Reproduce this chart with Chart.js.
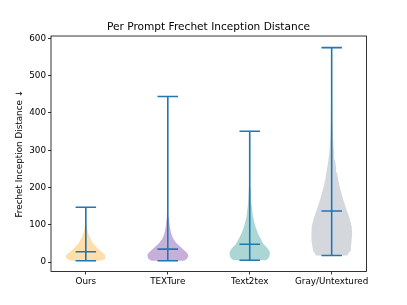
<!DOCTYPE html>
<html>
<head>
<meta charset="utf-8">
<script src="https://cdn.jsdelivr.net/npm/chart.js@4"></script>
<style>
  html, body { margin: 0; padding: 0; background: #fff; }
  #wrap { width: 407px; height: 305px; }
</style>
</head>
<body>
<div id="wrap"><canvas id="violinChart" width="407" height="305"></canvas></div>
<script>
// categories and summary stats
const categories = ['Ours', 'TEXTure', 'Text2tex', 'Gray/Untextured'];
const yTicks = [0, 100, 200, 300, 400, 500, 600];
const minVals = [4, 4, 5, 18];
const medVals = [28, 35, 48, 137];
const maxVals = [147, 444, 351, 575];

// violin outlines: value levels and half widths (x units)
const oursLevels = [4, 8, 14, 20, 28, 38, 50, 60, 68, 78, 86, 100, 120, 147];
const oursWidths = [0.17, 0.23, 0.245, 0.235, 0.19, 0.14, 0.09, 0.065, 0.045, 0.03, 0.02, 0.01, 0.005, 0.003];
const textureLevels = [4, 10, 19, 26, 34, 42, 50, 60, 68, 80, 95, 121, 160, 220, 300, 444];
const textureWidths = [0.2, 0.24, 0.25, 0.23, 0.19, 0.15, 0.11, 0.075, 0.055, 0.038, 0.025, 0.012, 0.007, 0.005, 0.004, 0.003];
const text2texLevels = [5, 12, 20, 28, 38, 48, 58, 68, 80, 95, 121, 157, 202, 260, 351];
const text2texWidths = [0.2, 0.235, 0.245, 0.245, 0.215, 0.17, 0.145, 0.12, 0.095, 0.07, 0.04, 0.02, 0.01, 0.006, 0.004];
const grayLevels = [18, 30, 41, 60, 77, 95, 112, 130, 148, 165, 184, 200, 220, 240, 255, 275, 291, 327, 371, 450, 575];
const grayWidths = [0.19, 0.225, 0.235, 0.245, 0.25, 0.245, 0.225, 0.2, 0.17, 0.145, 0.12, 0.1, 0.08, 0.065, 0.053, 0.04, 0.03, 0.018, 0.012, 0.007, 0.004];

const violinFills = ['rgb(254,222,170)', 'rgb(198,176,218)', 'rgb(172,214,212)', 'rgb(212,216,221)'];
const lineColor = '#1f77b4';
const capHalf = 0.125;

const profiles = [
    [oursLevels, oursWidths],
    [textureLevels, textureWidths],
    [text2texLevels, text2texWidths],
    [grayLevels, grayWidths],
];

function violinOutline(pos, levels, widths) {
    const pts = [];
    for (let i = 0; i < levels.length; i++) pts.push({ x: pos + widths[i], y: levels[i] });
    for (let i = levels.length - 1; i >= 0; i--) pts.push({ x: pos - widths[i], y: levels[i] });
    pts.push({ x: pos + widths[0], y: levels[0] });
    return pts;
}

function barLines(pos, i) {
    const gap = { x: pos, y: null };
    return [
        { x: pos, y: minVals[i] }, { x: pos, y: maxVals[i] }, gap,
        { x: pos - capHalf, y: maxVals[i] }, { x: pos + capHalf, y: maxVals[i] }, gap,
        { x: pos - capHalf, y: medVals[i] }, { x: pos + capHalf, y: medVals[i] }, gap,
        { x: pos - capHalf, y: minVals[i] }, { x: pos + capHalf, y: minVals[i] },
    ];
}

const datasets = [];
categories.forEach((c, i) => {
    datasets.push({
        label: c,
        data: violinOutline(i + 1, profiles[i][0], profiles[i][1]),
        backgroundColor: violinFills[i],
        borderWidth: 0,
        pointRadius: 0,
        fill: 'shape',
        tension: 0,
        order: 1,
    });
});
categories.forEach((c, i) => {
    datasets.push({
        label: c + ' bars',
        data: barLines(i + 1, i),
        borderColor: lineColor,
        borderWidth: 1.6,
        pointRadius: 0,
        fill: false,
        spanGaps: false,
        order: 0,
    });
});

const framePlugin = {
    id: 'frame',
    afterDatasetsDraw(chart) {
        const a = chart.chartArea;
        const ctx = chart.ctx;
        ctx.save();
        ctx.strokeStyle = '#000';
        ctx.lineWidth = 0.8;
        ctx.strokeRect(a.left, a.top, a.right - a.left, a.bottom - a.top);
        ctx.restore();
    }
};

const font = 'DejaVu Sans';

const ctx = document.getElementById('violinChart').getContext('2d');
const violinChart = new Chart(ctx, {
    type: 'line',
    data: { datasets: datasets },
    options: {
        responsive: false,
        animation: false,
        devicePixelRatio: 1,
        layout: { padding: { left: 10, right: 0, top: 0, bottom: 0 } },
        scales: {
            x: {
                type: 'linear',
                min: 0.575,
                max: 4.425,
                afterBuildTicks: (scale) => { scale.ticks = categories.map((c, i) => ({ value: i + 1 })); },
                afterFit: (scale) => { scale.height = 33.5; },
                ticks: {
                    autoSkip: false,
                    maxRotation: 0,
                    padding: 2,
                    color: '#000',
                    font: { family: font, size: 8.8 },
                    callback: (v) => categories[v - 1],
                },
                grid: { display: true, drawOnChartArea: false, drawTicks: true, tickLength: 3, color: '#000', lineWidth: 0.8 },
                border: { display: false },
            },
            y: {
                type: 'linear',
                min: -25,
                max: 606,
                afterBuildTicks: (scale) => { scale.ticks = yTicks.map(v => ({ value: v })); },
                afterFit: (scale) => { scale.width = 41; },
                ticks: {
                    padding: 2,
                    color: '#000',
                    font: { family: font, size: 8.8 },
                },
                grid: { display: true, drawOnChartArea: false, drawTicks: true, tickLength: 3, color: '#000', lineWidth: 0.8 },
                border: { display: false },
                title: {
                    display: true,
                    text: 'Frechet Inception Distance ↓',
                    color: '#000',
                    font: { family: font, size: 8.8 },
                    padding: { top: 4, bottom: 0 },
                },
            },
            yRight: {
                type: 'linear',
                position: 'right',
                min: -25,
                max: 606,
                afterFit: (scale) => { scale.width = 40.5; },
                ticks: { display: false },
                grid: { display: false },
                border: { display: false },
            },
        },
        plugins: {
            legend: { display: false },
            tooltip: { enabled: false },
            title: {
                display: true,
                text: 'Per Prompt Frechet Inception Distance',
                color: '#000',
                font: { family: font, size: 10.6, weight: 'normal' },
                padding: { top: 21, bottom: 2.3 },
            },
        },
    },
    plugins: [framePlugin],
});
</script>
</body>
</html>
